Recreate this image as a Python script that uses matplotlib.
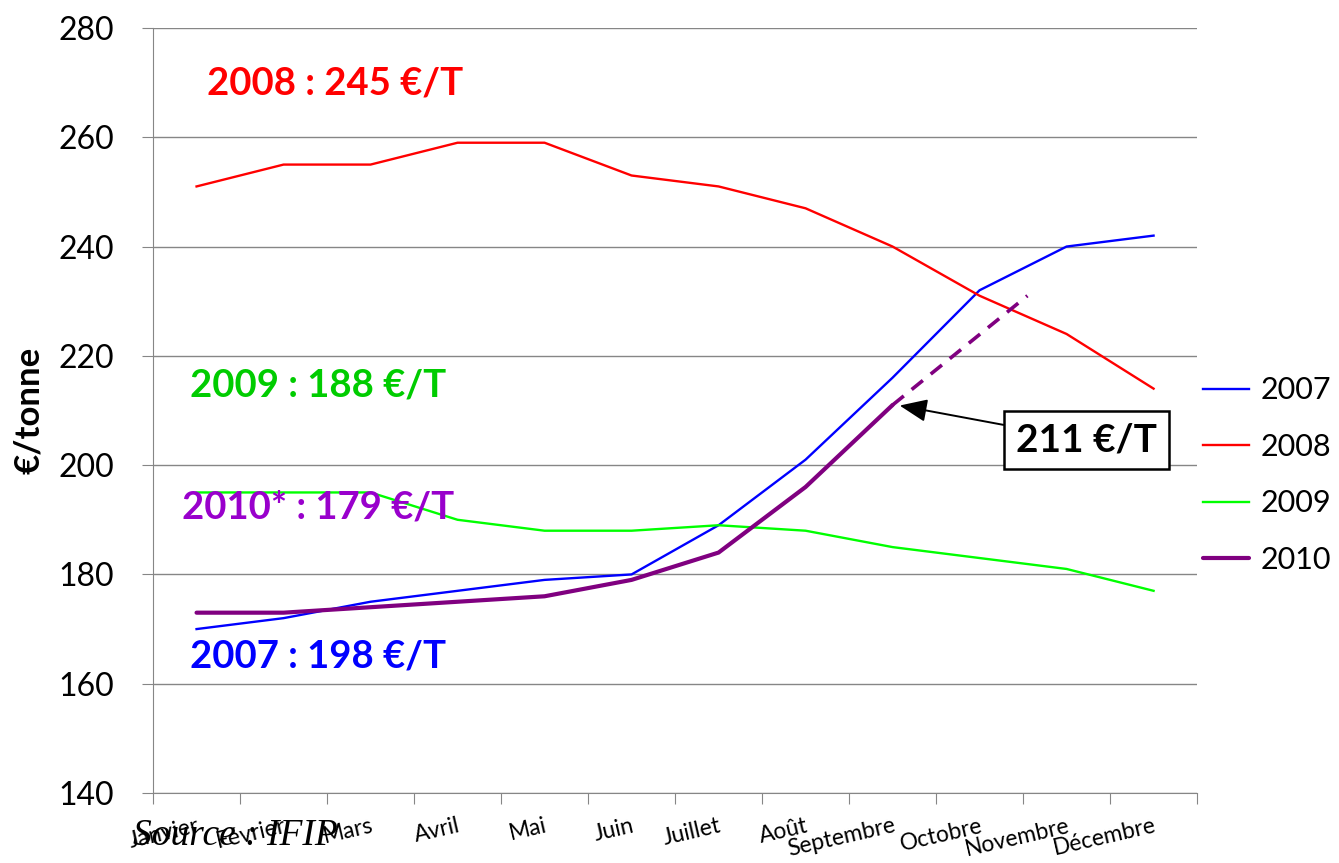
import numpy as np
import matplotlib
matplotlib.use("Agg")
import matplotlib.pyplot as plt

plt.rcParams['font.family'] = ['Lato', 'DejaVu Sans']

# Monthly pig prices (€/tonne)
months = ['Janvier', 'Février', 'Mars', 'Avril', 'Mai', 'Juin', 'Juillet',
          'Août', 'Septembre', 'Octobre', 'Novembre', 'Décembre']
p2007 = [170, 172, 175, 177, 179, 180, 189, 201, 216, 232, 240, 242]
p2008 = [251, 255, 255, 259, 259, 253, 251, 247, 240, 231, 224, 214]
p2009 = [195, 195, 195, 190, 188, 188, 189, 188, 185, 183, 181, 177]
p2010 = [173, 173, 174, 175, 176, 179, 184, 196, 211]
# projected trend for 2010 (month index, value)
proj_x = [8, 9.55]
proj_y = [211, 231]

yearly_labels = ['2008 : 245 €/T', '2009 : 188 €/T', '2010* : 179 €/T', '2007 : 198 €/T']
callout = '211 €/T'

fig = plt.figure(figsize=(13.39, 8.63), dpi=100)
ax = fig.add_axes([0.1143, 0.0811, 0.7797, 0.8865])

x = np.arange(len(months))
ax.plot(x, p2007, color='#0000FF', lw=1.7, label='2007')
ax.plot(x, p2008, color='#FF0000', lw=1.7, label='2008')
ax.plot(x, p2009, color='#00FF00', lw=1.7, label='2009')
ax.plot(x[:len(p2010)], p2010, color='#800080', lw=3.0, label='2010',
        solid_capstyle='round')
ax.plot(proj_x, proj_y, color='#800080', lw=2.6, ls=(0, (4, 2.8)))

ax.set_ylim(140, 280)
ax.set_yticks(np.arange(140, 281, 20))
ax.set_xlim(-0.5, 11.5)
ax.set_xticks(np.arange(-0.5, 12, 1))
ax.set_xticklabels([])
ax.set_xticks(x, minor=True)
ax.set_xticklabels(months, minor=True, rotation=13, ha='right',
                   rotation_mode='anchor', fontsize=16.5)
ax.tick_params(axis='x', which='minor', length=0, pad=16)
ax.tick_params(axis='x', which='major', length=8, color='#868686', direction='out')
ax.tick_params(axis='y', length=8, color='#868686', labelsize=23, pad=20)

ax.grid(axis='y', color='#868686', lw=1)
ax.set_axisbelow(True)
for s in ['top', 'right']:
    ax.spines[s].set_visible(False)
for s in ['left', 'bottom']:
    ax.spines[s].set_color('#868686')

ax.set_ylabel('€/tonne', fontsize=25, fontweight='bold', labelpad=10)

txt_kw = dict(transform=ax.transAxes, fontsize=27.5, fontweight='bold', va='center')
ax.text(0.052, 0.928, yearly_labels[0], color='#FF0000', **txt_kw)
ax.text(0.035, 0.533, yearly_labels[1], color='#00CC00', **txt_kw)
ax.text(0.028, 0.373, yearly_labels[2], color='#9900CC', **txt_kw)
ax.text(0.035, 0.178, yearly_labels[3], color='#0000FF', **txt_kw)

ax.annotate(callout, xy=(8.05, 211), xycoords='data',
            xytext=(0.894, 0.461), textcoords='axes fraction',
            fontsize=28, fontweight='bold', ha='center', va='center',
            bbox=dict(boxstyle='square,pad=0.3', fc='white', ec='black', lw=1.8),
            arrowprops=dict(arrowstyle='-|>,head_length=0.6,head_width=0.25',
                            color='black', lw=1.4, shrinkA=0, shrinkB=2))

fig.legend(handles=ax.get_lines()[:4], loc='center left',
           bbox_to_anchor=(1203 / 1339, 1 - 475 / 863), frameon=False,
           fontsize=22, handlelength=1.5, handletextpad=0.4, labelspacing=0.93,
           borderpad=0, borderaxespad=0)

fig.text(0.099, 0.032, 'Source : IFIP', family='Liberation Serif', style='italic',
         fontsize=27, va='center')

fig.savefig('out.png', dpi=100)
